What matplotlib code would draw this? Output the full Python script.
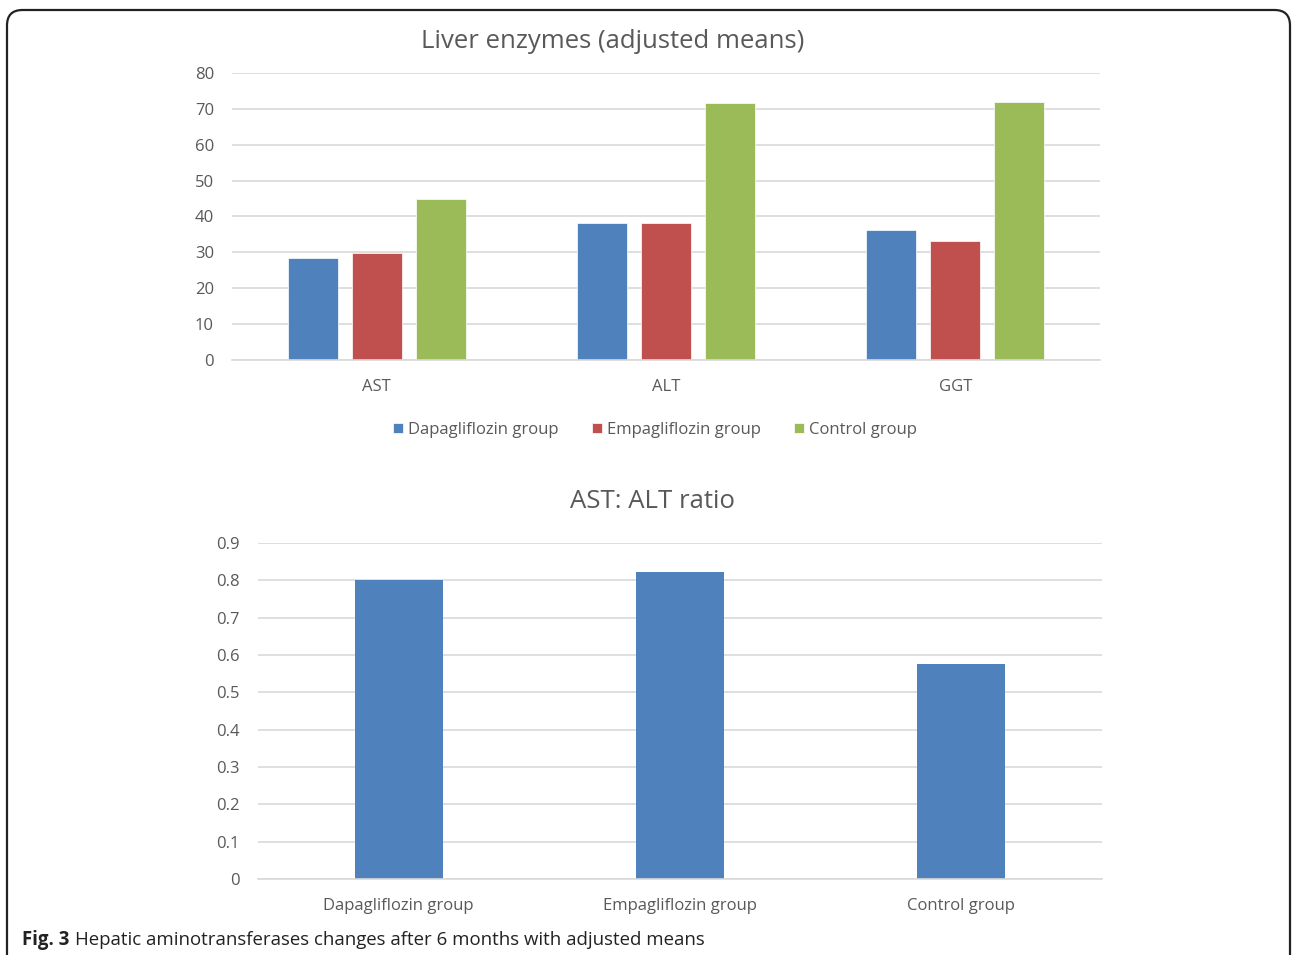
import numpy as np
import matplotlib.pyplot as plt
from matplotlib.patches import FancyBboxPatch

plt.rcParams['font.family'] = ['Open Sans', 'DejaVu Sans']

enzymes = ["AST", "ALT", "GGT"]
groups = ["Dapagliflozin group", "Empagliflozin group", "Control group"]
dapa = [28.4, 38.2, 36.2]
empa = [29.8, 38.2, 33.2]
control = [44.9, 71.6, 71.9]
ratio = [0.801, 0.822, 0.576]

colors = ["#4f81bd", "#c0504d", "#9bbb59"]
text_c = "#595959"
grid_c = "#d9d9d9"

W, H = 1292, 955
fig = plt.figure(figsize=(W / 100, H / 100), dpi=100)

# rounded frame around the figure, open at the bottom
top = 1 - 10 / H
frame = FancyBboxPatch((7 / W, -0.05), 1283 / W, top + 0.05,
                       boxstyle="round,pad=0,rounding_size=0.012",
                       transform=fig.transFigure, fill=False,
                       edgecolor="#222222", linewidth=1.6, mutation_aspect=W / H)
fig.add_artist(frame)


def style(ax):
    for s in ["top", "right", "left"]:
        ax.spines[s].set_visible(False)
    ax.spines["bottom"].set_color(grid_c)
    ax.spines["bottom"].set_linewidth(1.2)
    ax.yaxis.grid(True, color=grid_c, linewidth=1.2)
    ax.set_axisbelow(True)
    ax.tick_params(length=0, colors=text_c, labelsize=12)
    ax.tick_params(axis="y", pad=13)
    ax.tick_params(axis="x", pad=13.5)


# liver enzymes
ax1 = fig.add_axes([232 / W, 1 - 360 / H, 868 / W, 287 / H])
x = np.arange(len(enzymes))
w = 0.173
step = 0.221
for i, (vals, g) in enumerate(zip([dapa, empa, control], groups)):
    ax1.bar(x + (i - 1) * step, vals, w, color=colors[i], label=g,
            edgecolor="white", linewidth=0.5)
ax1.set_xlim(-0.5, 2.5)
ax1.set_ylim(0, 80)
ax1.set_yticks(range(0, 81, 10))
ax1.set_xticks(x)
ax1.set_xticklabels(enzymes)
style(ax1)
fig.text(613 / W, 1 - 41 / H, "Liver enzymes (adjusted means)", color=text_c,
         fontsize=18.5, ha="center", va="center")
fig.legend(loc="center", bbox_to_anchor=(655 / W, 1 - 430 / H), ncol=3, frameon=False,
           fontsize=12, labelcolor=text_c, handlelength=0.6, handleheight=0.6,
           handletextpad=0.3, columnspacing=2.0)

# AST:ALT ratio
ax2 = fig.add_axes([258 / W, 1 - 879 / H, 844 / W, 336 / H])
ax2.bar(np.arange(len(groups)), ratio, 0.313, color=colors[0])
ax2.set_xlim(-0.5, 2.5)
ax2.set_ylim(0, 0.9)
ax2.set_yticks(np.arange(0, 0.91, 0.1))
ax2.set_yticklabels(["0"] + [f"{v:.1f}" for v in np.arange(0.1, 0.91, 0.1)])
ax2.set_xticks(np.arange(len(groups)))
ax2.set_xticklabels(groups)
style(ax2)
fig.text(652 / W, 1 - 501 / H, "AST: ALT ratio", color=text_c,
         fontsize=18.5, ha="center", va="center")

# caption
cap = fig.text(22 / W, 1 - 940 / H, "Fig. 3", fontsize=13.4, va="center",
               fontweight="bold", color="#222222")
ax2.annotate("Hepatic aminotransferases changes after 6 months with adjusted means",
             xy=(1, 0.5), xycoords=cap, xytext=(4, 0), textcoords="offset points",
             fontsize=13.4, va="center", color="#222222", annotation_clip=False)

fig.savefig("out.png", dpi=100)
